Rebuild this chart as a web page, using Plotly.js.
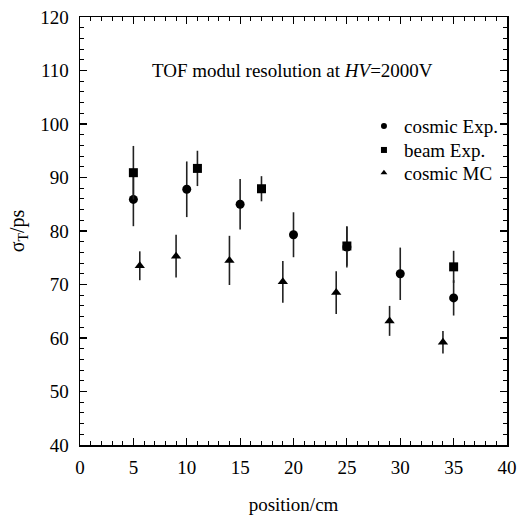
<!DOCTYPE html>
<html>
<head>
<meta charset="utf-8">
<script src="https://cdn.plot.ly/plotly-3.0.1.min.js"></script>
<style>html,body{margin:0;padding:0;background:#fff;}#plot{width:526px;height:517px;}</style>
</head>
<body>
<div id="plot"></div>
<script>
// cosmic Exp.
const cosmicExpX = [5, 10, 15, 20, 25, 30, 35];
const cosmicExpY = [85.9, 87.8, 85.0, 79.3, 77.0, 72.0, 67.5];
const cosmicExpErr = [5.0, 5.2, 4.7, 4.2, 3.8, 4.9, 3.3];
// beam Exp.
const beamExpX = [5, 11, 17, 25, 35];
const beamExpY = [90.9, 91.7, 87.9, 77.2, 73.3];
const beamExpErr = [5.0, 3.3, 2.35, 3.7, 3.0];
// cosmic MC
const cosmicMCX = [5.6, 9, 14, 19, 24, 29, 34];
const cosmicMCY = [73.5, 75.3, 74.5, 70.5, 68.5, 63.2, 59.2];
const cosmicMCErr = [2.7, 4.0, 4.6, 3.9, 4.0, 2.8, 2.1];

const seriesNames = ['cosmic Exp.', 'beam Exp.', 'cosmic MC'];
const xTickVals = [0, 5, 10, 15, 20, 25, 30, 35, 40];
const yTickVals = [40, 50, 60, 70, 80, 90, 100, 110, 120];

const FONT = '"Liberation Serif", "Times New Roman", serif';
const FS = 19;
const errStyle = {type: 'data', visible: true, color: '#222', thickness: 1.6, width: 0};

function dataTrace(x, y, err, symbol, size) {
  return {
    x: x, y: y, type: 'scatter', mode: 'markers', showlegend: false,
    marker: {symbol: symbol, size: size, color: '#000'},
    error_y: Object.assign({array: err}, errStyle),
    hoverinfo: 'skip'
  };
}
function legendTrace(name, symbol, size, legendId) {
  return {
    x: [null], y: [null], type: 'scatter', mode: 'markers', name: name,
    marker: {symbol: symbol, size: size, color: '#000'}, showlegend: true,
    legend: legendId
  };
}

const traces = [
  dataTrace(cosmicMCX, cosmicMCY, cosmicMCErr, 'triangle-up', 9),
  dataTrace(cosmicExpX, cosmicExpY, cosmicExpErr, 'circle', 9),
  dataTrace(beamExpX, beamExpY, beamExpErr, 'square', 9),
  legendTrace(seriesNames[0], 'circle', 6, 'legend'),
  legendTrace(seriesNames[1], 'square', 6, 'legend2'),
  legendTrace(seriesNames[2], 'triangle-up', 6, 'legend3')
];

const axisCommon = {
  showgrid: false, zeroline: false, showline: true, linecolor: '#000', linewidth: 1.5,
  mirror: 'ticks', ticks: 'inside', ticklen: 7, tickwidth: 1.2, tickcolor: '#000',
  tickfont: {family: FONT, size: FS, color: '#000'}
};

function legendAt(y) {
  return {
    x: 0.665, y: y, xanchor: 'left', yanchor: 'middle',
    bgcolor: 'rgba(0,0,0,0)', borderwidth: 0,
    font: {family: FONT, size: FS, color: '#000'},
    itemsizing: 'trace'
  };
}

const layout = {
  width: 526, height: 517,
  margin: {l: 80, r: 19, t: 17, b: 72},
  paper_bgcolor: '#fff', plot_bgcolor: '#fff',
  font: {family: FONT, size: FS, color: '#000'},
  xaxis: Object.assign({}, axisCommon, {
    range: [0, 40], tickvals: xTickVals, ticktext: xTickVals.map(String),
    ticklabelstandoff: 5,
    minor: {dtick: 1, ticklen: 4, tickwidth: 1, tickcolor: '#000', ticks: 'inside'},
    title: {text: 'position/cm', font: {family: FONT, size: FS, color: '#000'}, standoff: 20}
  }),
  yaxis: Object.assign({}, axisCommon, {
    range: [40, 120], tickvals: yTickVals, ticktext: yTickVals.map(String),
    ticklabelstandoff: 6,
    minor: {dtick: 2, ticklen: 4, tickwidth: 1, tickcolor: '#000', ticks: 'inside'},
    title: {text: 'σ<sub>T</sub>/ps', font: {family: FONT, size: 20, color: '#000'}, standoff: 10}
  }),
  legend: legendAt(0.745),
  legend2: legendAt(0.689),
  legend3: legendAt(0.636),
  annotations: [{
    x: 19.9, y: 110, xref: 'x', yref: 'y', showarrow: false,
    text: 'TOF modul resolution at <i>HV</i>=2000V',
    font: {family: FONT, size: FS, color: '#000'}
  }],
  showlegend: true
};

Plotly.newPlot('plot', traces, layout, {staticPlot: true, displayModeBar: false});
</script>
</body>
</html>
